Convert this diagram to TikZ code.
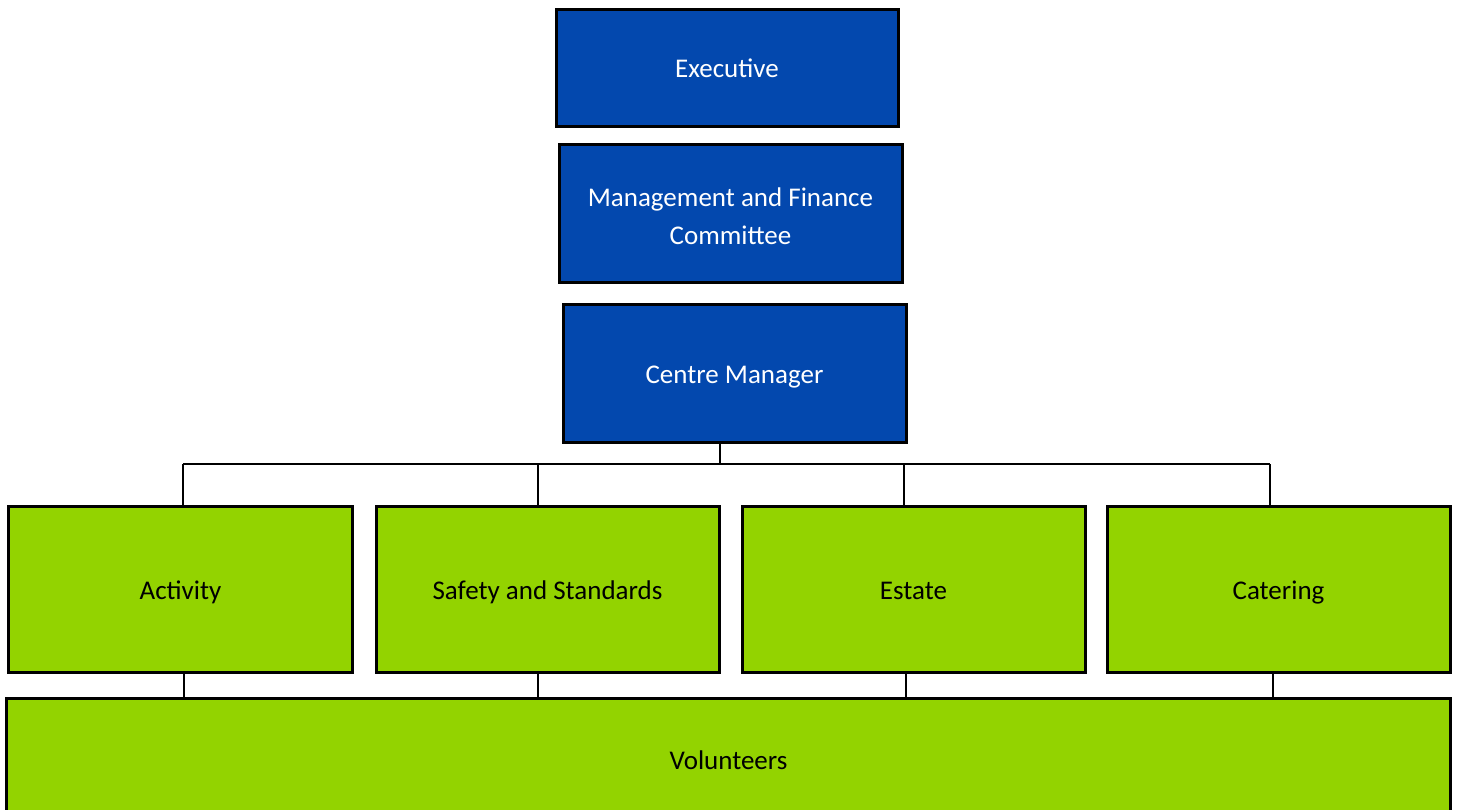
\documentclass[tikz,border=0pt]{standalone}
\usepackage{fontspec}
\setmainfont{Carlito}
\definecolor{boxblue}{HTML}{0348AE}
\definecolor{boxgreen}{HTML}{93D300}
\begin{document}
\begin{tikzpicture}[x=0.5bp,y=-0.5bp,
  box/.style={draw=black,line width=1.5bp,inner sep=0pt,outer sep=0pt,align=center,
    font=\fontsize{13.5bp}{19bp}\selectfont},
  oneline/.style={text height=10bp,text depth=0pt},
  bluebox/.style={box,fill=boxblue,text=white},
  greenbox/.style={box,fill=boxgreen,text=black},
  conn/.style={draw=black,line width=1bp}]
\clip (0,0) rectangle (1458,809);
\useasboundingbox (0,0) rectangle (1458,809);
\node[bluebox,oneline,minimum width=171bp,minimum height=58.5bp] (exec) at (727,67.5) {Executive};
\node[bluebox,minimum width=171.5bp,minimum height=69bp] (mfc) at (730.5,213) {};
\node[inner sep=0pt,align=center,text=white,font=\fontsize{13.5bp}{19bp}\selectfont] (mfct) at (730.5,216) {Management and Finance\\Committee};
\node[bluebox,oneline,minimum width=171.5bp,minimum height=69bp] (cm) at (734.5,373) {Centre Manager};
\node[greenbox,oneline,minimum width=171.5bp,minimum height=83bp] (act) at (180.5,589) {Activity};
\node[greenbox,oneline,minimum width=171.5bp,minimum height=83bp] (saf) at (547.5,589) {Safety and Standards};
\node[greenbox,oneline,minimum width=171.5bp,minimum height=83bp] (est) at (913.5,589) {Estate};
\node[greenbox,oneline,minimum width=171.5bp,minimum height=83bp] (cat) at (1278.5,589) {Catering};
\node[greenbox,oneline,minimum width=721.5bp,minimum height=61bp] (vol) at (728.5,759) {Volunteers};
\coordinate (j) at (720,464);
\coordinate (jl) at (183,464);
\coordinate (jr) at (1270,464);
\draw[conn] (cm.south -| j) -- (j);
\draw[conn] (jl) -- (jr);
\draw[conn] (jl) -- (jl |- act.north);
\draw[conn] (j -| 538,0) -- (538,0 |- saf.north);
\draw[conn] (j -| 904,0) -- (904,0 |- est.north);
\draw[conn] (jr) -- (jr |- cat.north);
\draw[conn] (184,0 |- act.south) -- (184,0 |- vol.north);
\draw[conn] (538,0 |- saf.south) -- (538,0 |- vol.north);
\draw[conn] (906,0 |- est.south) -- (906,0 |- vol.north);
\draw[conn] (1273,0 |- cat.south) -- (1273,0 |- vol.north);
\end{tikzpicture}
\end{document}
